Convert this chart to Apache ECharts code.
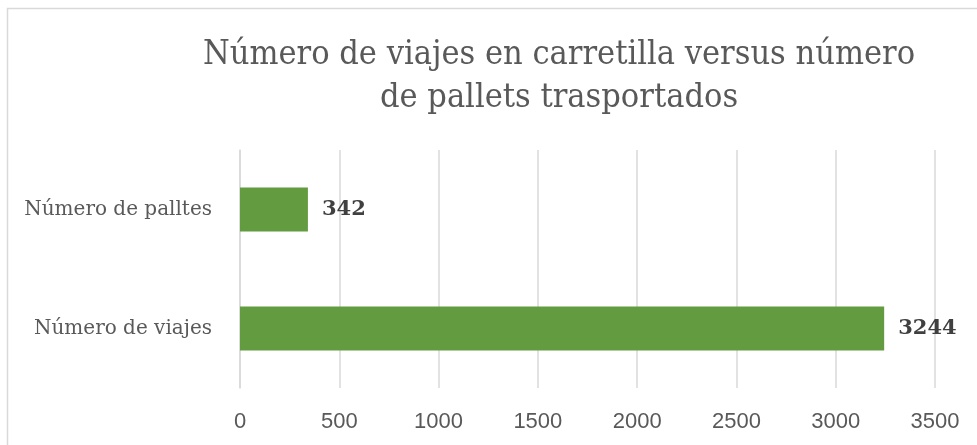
<!DOCTYPE html>
<html><head><meta charset="utf-8">
<script src="https://cdn.jsdelivr.net/npm/echarts@6/dist/echarts.min.js"></script>
<style>html,body{margin:0;padding:0;background:#fff}#c{width:977px;height:445px}</style>
</head><body><div id="c"></div>
<script>
const titleLines = ['Número de viajes en carretilla versus número', 'de pallets trasportados'];
const categories = ['Número de viajes', 'Número de palltes'];
const values = [3244, 342];
const axisMin = 0, axisMax = 3500, axisStep = 500;

const chart = echarts.init(document.getElementById('c'), null, {renderer: 'canvas'});
chart.setOption({
  animation: false,
  backgroundColor: '#fff',
  graphic: [
    {type: 'rect', shape: {x: 7.5, y: 8.5, width: 1000, height: 500}, style: {fill: 'none', stroke: '#d9d9d9', lineWidth: 1.5}, silent: true},
    {type: 'text', x: 559, y: 55, style: {text: titleLines[0], font: '34px "DejaVu Serif Condensed"', fill: '#595959', align: 'center', verticalAlign: 'middle'}},
    {type: 'text', x: 559, y: 98, style: {text: titleLines[1], font: '34px "DejaVu Serif Condensed"', fill: '#595959', align: 'center', verticalAlign: 'middle'}}
  ],
  grid: {left: 240, right: 42, top: 150, bottom: 57, containLabel: false},
  xAxis: {
    type: 'value', min: axisMin, max: axisMax, interval: axisStep,
    axisLine: {show: false}, axisTick: {show: false},
    splitLine: {lineStyle: {color: '#d9d9d9', width: 1.5}},
    axisLabel: {color: '#595959', fontFamily: 'Liberation Sans', fontSize: 22, margin: 23, formatter: v => String(v)}
  },
  yAxis: {
    type: 'category', data: categories,
    axisLine: {lineStyle: {color: '#d9d9d9', width: 1.5}}, axisTick: {show: false},
    axisLabel: {color: '#595959', fontFamily: 'DejaVu Serif', fontSize: 20, margin: 28}
  },
  series: [{
    type: 'bar', data: values, barWidth: 44,
    itemStyle: {color: '#629b40'},
    label: {show: true, position: 'right', distance: 14, color: '#404040', fontFamily: 'DejaVu Serif', fontWeight: 'bold', fontSize: 21}
  }]
});
</script></body></html>
